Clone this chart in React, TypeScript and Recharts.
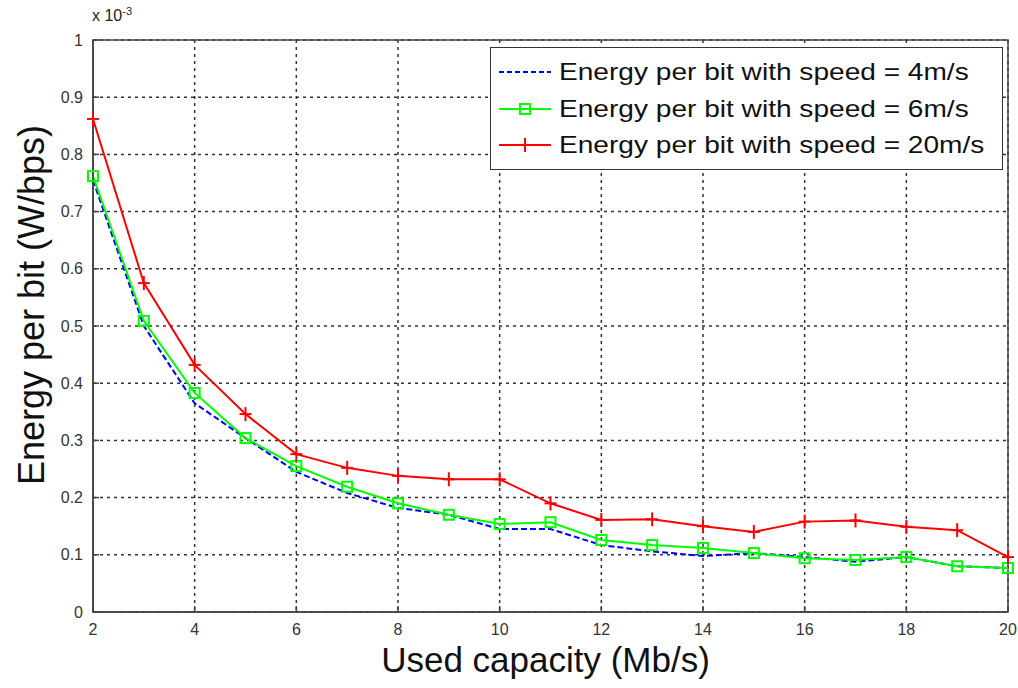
import React from "react";
import {
  LineChart,
  Line,
  XAxis,
  YAxis,
  CartesianGrid,
  ReferenceArea,
} from "recharts";

const capacity = [2, 3, 4, 5, 6, 7, 8, 9, 10, 11, 12, 13, 14, 15, 16, 17, 18, 19, 20];
const speed4 = [0.755, 0.5, 0.365, 0.304, 0.245, 0.208, 0.182, 0.17, 0.145, 0.145, 0.117, 0.106, 0.098, 0.103, 0.096, 0.088, 0.096, 0.08, 0.077];
const speed6 = [0.762, 0.509, 0.383, 0.304, 0.255, 0.219, 0.19, 0.17, 0.154, 0.157, 0.126, 0.117, 0.112, 0.103, 0.094, 0.091, 0.096, 0.08, 0.077];
const speed20 = [0.862, 0.575, 0.432, 0.346, 0.276, 0.252, 0.238, 0.232, 0.232, 0.19, 0.161, 0.162, 0.15, 0.14, 0.158, 0.16, 0.149, 0.143, 0.096];
const xTicks = [2, 4, 6, 8, 10, 12, 14, 16, 18, 20];
const yTicks = [0, 0.1, 0.2, 0.3, 0.4, 0.5, 0.6, 0.7, 0.8, 0.9, 1];
const seriesNames = [
  "Energy per bit with speed = 4m/s",
  "Energy per bit with speed = 6m/s",
  "Energy per bit with speed = 20m/s",
];

const data = capacity.map((c, i) => ({
  x: c,
  s4: speed4[i],
  s6: speed6[i],
  s20: speed20[i],
}));

const FONT = "Arial, 'Liberation Sans', sans-serif";

const SquareDot = (props: any) => {
  const { cx, cy } = props;
  if (cx == null || cy == null) return null;
  return <rect x={cx - 5} y={cy - 5} width={10} height={10} fill="none" stroke="#00ff00" strokeWidth={2} />;
};

const PlusDot = (props: any) => {
  const { cx, cy } = props;
  if (cx == null || cy == null) return null;
  return (
    <g stroke="#ff0000" strokeWidth={2}>
      <line x1={cx - 6} y1={cy} x2={cx + 6} y2={cy} />
      <line x1={cx} y1={cy - 7} x2={cx} y2={cy + 7} />
    </g>
  );
};

const LegendBox = () => {
  const rows = [
    { name: seriesNames[0], color: "#0000ff", dash: "5 3", marker: null },
    { name: seriesNames[1], color: "#00ff00", dash: undefined, marker: "square" },
    { name: seriesNames[2], color: "#ff0000", dash: undefined, marker: "plus" },
  ];
  return (
    <div
      style={{
        position: "absolute",
        left: 490,
        top: 47,
        border: "1.5px solid #333",
        background: "#fff",
        width: 513,
        height: 123,
        boxSizing: "border-box",
        padding: "6px 0 0 6px",
        fontFamily: FONT,
        fontSize: 24,
        color: "#111",
      }}
    >
      {rows.map((r) => (
        <div key={r.name} style={{ display: "flex", alignItems: "center", height: 36.5 }}>
          <svg width={56} height={20} style={{ marginRight: 6, flexShrink: 0 }}>
            <line x1={2} y1={10} x2={54} y2={10} stroke={r.color} strokeWidth={2} strokeDasharray={r.dash} />
            {r.marker === "square" && (
              <rect x={23} y={5} width={10} height={10} fill="none" stroke={r.color} strokeWidth={2} />
            )}
            {r.marker === "plus" && (
              <g stroke={r.color} strokeWidth={2}>
                <line x1={28} y1={3} x2={28} y2={17} />
              </g>
            )}
          </svg>
          <span
            style={{
              whiteSpace: "nowrap",
              display: "inline-block",
              transform: "scaleX(1.17)",
              transformOrigin: "left center",
            }}
          >
            {r.name}
          </span>
        </div>
      ))}
    </div>
  );
};

export default function App() {
  return (
    <div style={{ position: "absolute", left: 0, top: 0, width: 1018, height: 688, background: "#fff" }}>
      <LineChart
        width={1018}
        height={688}
        data={data}
        margin={{ top: 40, right: 10, bottom: 6, left: 0 }}
      >
        <CartesianGrid stroke="#333" strokeDasharray="3 4" strokeWidth={1.5} vertical horizontal />
        <XAxis
          dataKey="x"
          type="number"
          domain={[2, 20]}
          ticks={xTicks}
          height={70}
          stroke="#444"
          strokeWidth={1.5}
          tickSize={-6}
          tickMargin={18}
          tick={{ fill: "#333", fontSize: 16, fontFamily: FONT }}
          label={(props: any) => {
            const vb = props.viewBox;
            return (
              <text
                x={vb.x + vb.width / 2 - 5}
                y={vb.y + 60}
                textAnchor="middle"
                style={{ fontSize: 35, fontFamily: FONT, fill: "#111" }}
              >
                Used capacity (Mb/s)
              </text>
            );
          }}
        />
        <YAxis
          type="number"
          domain={[0, 1]}
          ticks={yTicks}
          width={93}
          stroke="#444"
          strokeWidth={1.5}
          tickSize={-6}
          tickMargin={16}
          tick={{ fill: "#333", fontSize: 16, fontFamily: FONT }}
          label={(props: any) => {
            const vb = props.viewBox;
            const cx = 31;
            const cy = vb.y + vb.height / 2 - 21;
            return (
              <text
                x={cx}
                y={cy}
                transform={`rotate(-90, ${cx}, ${cy})`}
                textAnchor="middle"
                dominantBaseline="central"
                style={{ fontSize: 36, fontFamily: FONT, fill: "#111" }}
              >
                Energy per bit (W/bps)
              </text>
            );
          }}
        />
        <ReferenceArea x1={2} x2={20} y1={0} y2={1} fill="none" stroke="#444" strokeWidth={1.5} ifOverflow="visible" />
        <Line
          type="linear"
          dataKey="s4"
          name={seriesNames[0]}
          stroke="#0000ff"
          strokeWidth={2}
          strokeDasharray="6 3"
          dot={false}
          isAnimationActive={false}
        />
        <Line
          type="linear"
          dataKey="s6"
          name={seriesNames[1]}
          stroke="#00ff00"
          strokeWidth={2}
          dot={<SquareDot />}
          isAnimationActive={false}
        />
        <Line
          type="linear"
          dataKey="s20"
          name={seriesNames[2]}
          stroke="#ff0000"
          strokeWidth={2}
          dot={<PlusDot />}
          isAnimationActive={false}
        />
      </LineChart>
      <div
        style={{
          position: "absolute",
          left: 92,
          top: 5,
          fontFamily: FONT,
          fontSize: 16,
          color: "#222",
        }}
      >
        x 10<sup style={{ fontSize: 11 }}>-3</sup>
      </div>
      <LegendBox />
    </div>
  );
}
